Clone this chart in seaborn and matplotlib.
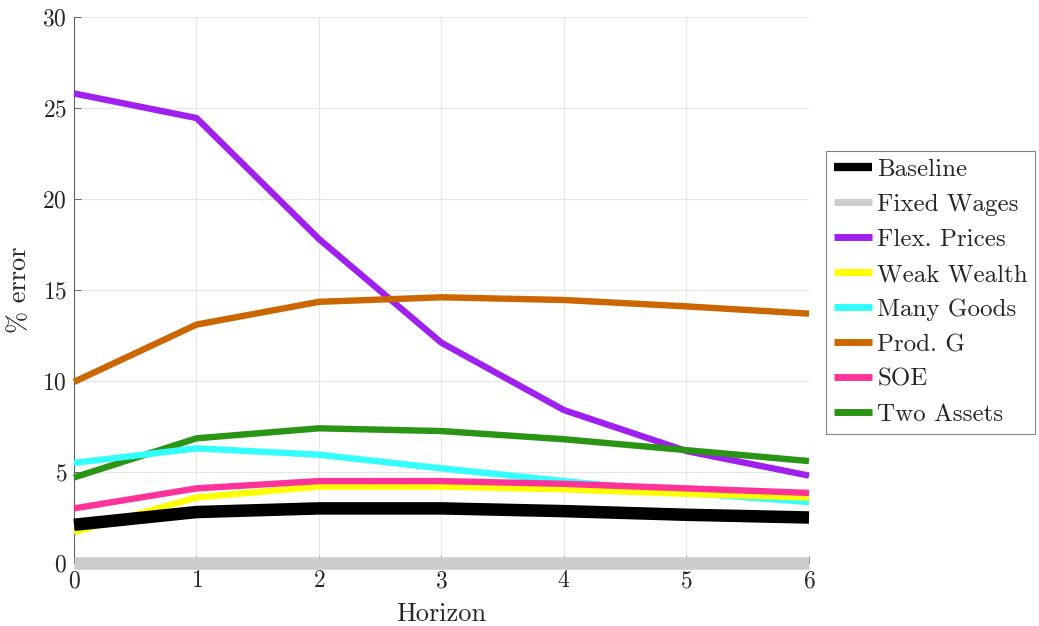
import numpy as np
import pandas as pd
import seaborn as sns
import matplotlib
matplotlib.use("Agg")
import matplotlib.pyplot as plt

horizon = [0, 1, 2, 3, 4, 5, 6]
names = ["Baseline", "Fixed Wages", "Flex. Prices", "Weak Wealth",
         "Many Goods", "Prod. G", "SOE", "Two Assets"]
baseline = [2.1, 2.8, 3.0, 3.0, 2.85, 2.65, 2.5]
fixed_wages = [0.0, 0.0, 0.0, 0.0, 0.0, 0.0, 0.0]
flex_prices = [25.8, 24.45, 17.8, 12.1, 8.4, 6.15, 4.8]
weak_wealth = [1.7, 3.6, 4.2, 4.2, 4.05, 3.8, 3.6]
many_goods = [5.5, 6.3, 5.95, 5.2, 4.5, 3.85, 3.35]
prod_g = [9.95, 13.1, 14.35, 14.6, 14.45, 14.1, 13.7]
soe = [3.0, 4.1, 4.5, 4.5, 4.35, 4.1, 3.85]
two_assets = [4.7, 6.85, 7.4, 7.25, 6.8, 6.2, 5.6]
series = [baseline, fixed_wages, flex_prices, weak_wealth,
          many_goods, prod_g, soe, two_assets]
colors = ["#000000", "#CCCCCC", "#A020F0", "#FFFF00",
          "#33FFFF", "#CC6600", "#FF3399", "#2A9415"]
widths = [9, 9, 4.6, 4.6, 4.6, 4.6, 4.6, 4.6]

sns.set_style("white")
plt.rcParams["font.family"] = ["cmr10", "DejaVu Serif"]
plt.rcParams["mathtext.fontset"] = "cm"
plt.rcParams["axes.formatter.use_mathtext"] = True

fig = plt.figure(figsize=(10.39, 6.26), dpi=100)
ax = fig.add_axes([74 / 1039, 1 - 563 / 626, (809 - 74) / 1039, (563 - 17) / 626])

order = [2, 5, 7, 4, 3, 6, 0, 1]
handles = {}
for i in order:
    df = pd.DataFrame({"h": horizon, "v": series[i]})
    sns.lineplot(data=df, x="h", y="v", ax=ax, color=colors[i],
                 linewidth=widths[i], label=names[i], clip_on=False,
                 solid_capstyle="butt", legend=False, zorder=3)
    handles[i] = ax.lines[-1]

ax.set_xlim(0, 6)
ax.set_ylim(0, 30)
ax.set_xticks(horizon)
ax.set_yticks(range(0, 31, 5))
ax.grid(True, color="#E6E6E6", linewidth=0.8)
ax.set_axisbelow(True)
for s in ["top", "right"]:
    ax.spines[s].set_visible(False)
for s in ["left", "bottom"]:
    ax.spines[s].set_color("#555555")
    ax.spines[s].set_linewidth(0.7)
    ax.spines[s].set_zorder(2)
ax.tick_params(direction="in", length=5, width=0.6, color="#555555",
               labelsize=17, labelcolor="#262626", left=True, bottom=True,
               pad=5)
ax.set_xlabel("Horizon", fontsize=19, color="#262626", labelpad=7)
ax.set_ylabel(r"% error", fontsize=19, color="#262626", labelpad=8)

leg = fig.legend([handles[i] for i in range(8)], names,
                 loc="upper left", bbox_to_anchor=(826 / 1039, 1 - 151 / 626),
                 fontsize=18, frameon=True, fancybox=False,
                 handlelength=1.55, handletextpad=0.2, borderpad=0.3,
                 labelspacing=0.5, borderaxespad=0)
leg.get_frame().set_edgecolor("#666666")
leg.get_frame().set_linewidth(0.8)
for l in leg.get_lines():
    l.set_linewidth(5)
leg.get_lines()[0].set_linewidth(6)

fig.savefig("out.png", dpi=100)
